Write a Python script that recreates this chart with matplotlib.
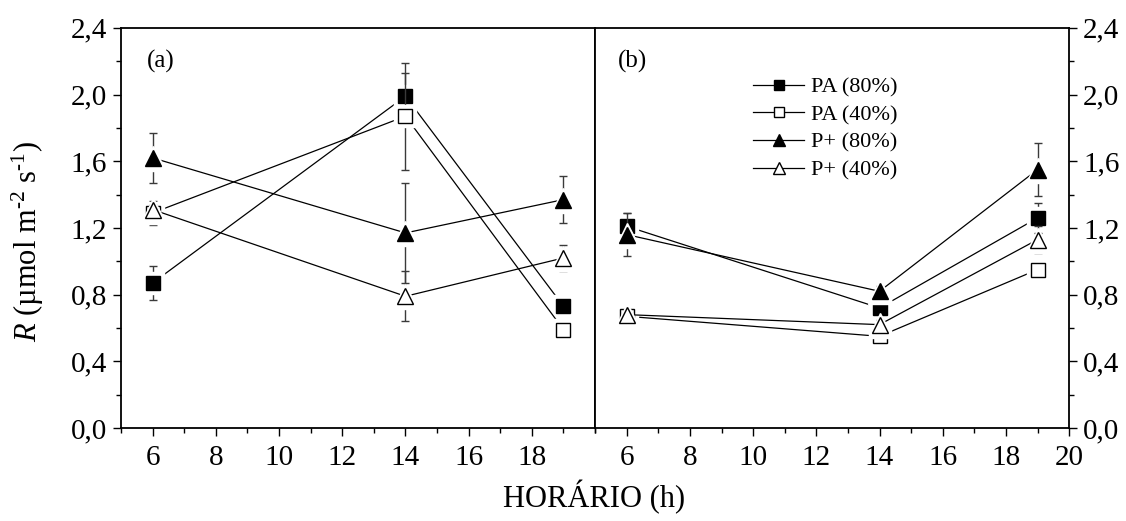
import numpy as np
import matplotlib
matplotlib.use('Agg')
import matplotlib.pyplot as plt
from matplotlib.lines import Line2D
from matplotlib.ticker import MultipleLocator, FuncFormatter

plt.rcParams['font.family'] = ['Liberation Serif', 'DejaVu Serif']
plt.rcParams['mathtext.fontset'] = 'custom'
plt.rcParams['mathtext.rm'] = 'Liberation Serif'
plt.rcParams['mathtext.it'] = 'Liberation Serif:italic'

hours = [6, 14, 19]
labels = ['PA (80%)', 'PA (40%)', 'P+ (80%)', 'P+ (40%)']

# panel (a)
pa80_a = [0.87, 1.99, 0.73]
pa80_a_err = [0.10, 0.14, 0.03]
pa40_a = [1.29, 1.87, 0.59]
pa40_a_err = [0.07, 0.32, 0.06]
pp80_a = [1.62, 1.17, 1.37]
pp80_a_err = [0.15, 0.30, 0.14]
pp40_a = [1.31, 0.79, 1.02]
pp40_a_err = [0.03, 0.15, 0.08]

# panel (b)
pa80_b = [1.21, 0.72, 1.26]
pa80_b_err = [0.08, 0.03, 0.09]
pa40_b = [0.67, 0.55, 0.95]
pa40_b_err = [0.03, 0.05, 0.06]
pp80_b = [1.16, 0.82, 1.55]
pp80_b_err = [0.13, 0.03, 0.16]
pp40_b = [0.68, 0.62, 1.13]
pp40_b_err = [0.03, 0.03, 0.08]

styles = [('s', 'black', 9.5), ('s', 'white', 9.5), ('^', 'black', 11), ('^', 'white', 11)]

fig = plt.figure(figsize=(11.26, 5.21), dpi=100)
ax_a = fig.add_axes([0.1075, 0.1785, 0.421, 0.768])
ax_b = fig.add_axes([0.5285, 0.1785, 0.421, 0.768])

comma = FuncFormatter(lambda v, p: ('%.1f' % v).replace('.', ','))


def draw_panel(ax, series, errs, xticks):
    for i, (y, e) in enumerate(zip(series, errs)):
        m, fc, ms = styles[i]
        z = 2 + 3 * i
        ax.plot(hours, y, color='black', lw=0.9, zorder=z)
        ax.errorbar(hours, y, yerr=e, fmt='none', ecolor='#3a3a3a', elinewidth=1.0,
                    capsize=3, capthick=1.0, zorder=z)
        # white halo so lines stop short of the markers
        ax.plot(hours, y, ls='none', marker=m, ms=ms + 7, mfc='white', mec='white',
                zorder=z + 1)
        ax.plot(hours, y, ls='none', marker=m, ms=ms, mfc=fc, mec='black', mew=1.0,
                zorder=z + 2)
    ax.set_xlim(5, 20)
    ax.set_ylim(0, 2.4)
    ax.set_xticks(xticks)
    ax.xaxis.set_minor_locator(MultipleLocator(1))
    ax.yaxis.set_major_locator(MultipleLocator(0.4))
    ax.yaxis.set_minor_locator(MultipleLocator(0.2))
    ax.yaxis.set_major_formatter(comma)
    for s in ax.spines.values():
        s.set_linewidth(1.3)
    ax.tick_params(which='major', direction='out', length=6, width=1.0, labelsize=21)
    ax.tick_params(which='minor', direction='out', length=3.5, width=1.0)
    ax.tick_params(axis='x', which='major', pad=6)
    ax.tick_params(axis='y', which='major', pad=4)
    ax.tick_params(axis='x', which='both', top=False)


draw_panel(ax_a, [pa80_a, pa40_a, pp80_a, pp40_a],
           [pa80_a_err, pa40_a_err, pp80_a_err, pp40_a_err],
           [6, 8, 10, 12, 14, 16, 18])
draw_panel(ax_b, [pa80_b, pa40_b, pp80_b, pp40_b],
           [pa80_b_err, pa40_b_err, pp80_b_err, pp40_b_err],
           [6, 8, 10, 12, 14, 16, 18, 20])

ax_a.tick_params(axis='y', which='both', left=True, right=False)
ax_b.tick_params(axis='y', which='both', left=False, right=True,
                 labelleft=False, labelright=True)

ax_a.text(0.055, 0.9, '(a)', transform=ax_a.transAxes, fontsize=18)
ax_b.text(0.048, 0.9, '(b)', transform=ax_b.transAxes, fontsize=18)

handles = [Line2D([], [], color='black', lw=0.9, marker=m, ms=ms * 0.8, mfc=fc,
                  mec='black', mew=1.0) for m, fc, ms in styles]
ax_b.legend(handles, labels, loc='upper left', bbox_to_anchor=(0.31, 0.905),
            frameon=False, fontsize=16, handlelength=2.3, handletextpad=0.3,
            labelspacing=0.32, borderpad=0)

fig.text(0.025, 0.537, '$\\mathit{R}$ (µmol m$^{\u2010 2}$ s$^{\u2010 1}$)',
         rotation=90, ha='center', va='center', fontsize=22)
fig.text(0.528, 0.045, 'HORÁRIO (h)', ha='center', va='center', fontsize=22)

fig.savefig('out.png', dpi=100)
